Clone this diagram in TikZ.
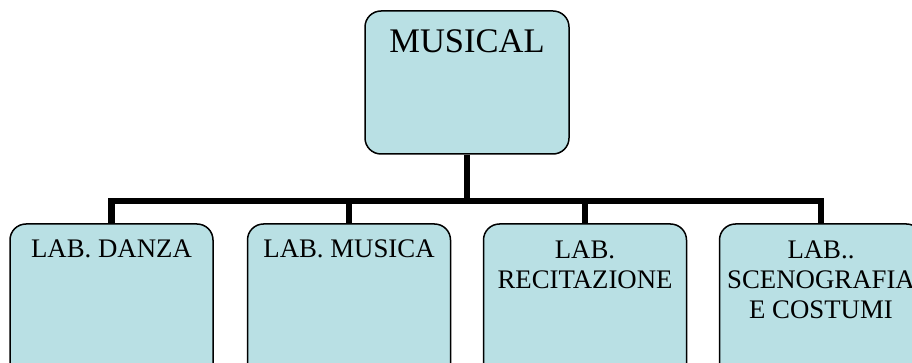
\documentclass[tikz,border=0pt]{standalone}
\usepackage{fontspec}
\setmainfont{Liberation Serif}
\definecolor{boxfill}{RGB}{185,224,228}
\begin{document}
\begin{tikzpicture}[x=1pt,y=-1pt,
  box/.style={draw=black,line width=1.5pt,fill=boxfill,rounded corners=16pt,
    minimum width=203pt,inner sep=0pt},
  conn/.style={line width=6.5pt,draw=black,line join=miter},
  big/.style={font=\fontsize{34.5}{37}\selectfont,inner sep=0pt,anchor=base},
  lab/.style={font=\fontsize{26.8}{30}\selectfont,inner sep=0pt,align=center,anchor=base}]
\useasboundingbox (0,0) rectangle (912,363);
\node[box,minimum width=204pt,minimum height=143pt] (top) at (467,82.5) {};
\node[box,minimum height=170pt] (b1) at (111.5,309) {};
\node[box,minimum height=170pt] (b2) at (349,309) {};
\node[box,minimum height=170pt] (b3) at (585,309) {};
\node[box,minimum height=170pt] (b4) at (821,309) {};
\coordinate (j) at (467,201);
\draw[conn] (top.south) -- (j);
\draw[conn] (b1.north) -- (b1.north |- j) -- (b4.north |- j) -- (b4.north);
\draw[conn] (b2.north) -- (b2.north |- j);
\draw[conn] (b3.north) -- (b3.north |- j);
\node[big] (t0) at (467,53) {MUSICAL};
\node[lab] (t1) at (111.5,258) {LAB. DANZA};
\node[lab] (t2) at (349,258) {LAB. MUSICA};
\node[lab] (t3) at (585,288) {LAB.\\RECITAZIONE};
\node[lab] (t4) at (821,318) {LAB..\\SCENOGRAFIA\\E COSTUMI};
\end{tikzpicture}
\end{document}
